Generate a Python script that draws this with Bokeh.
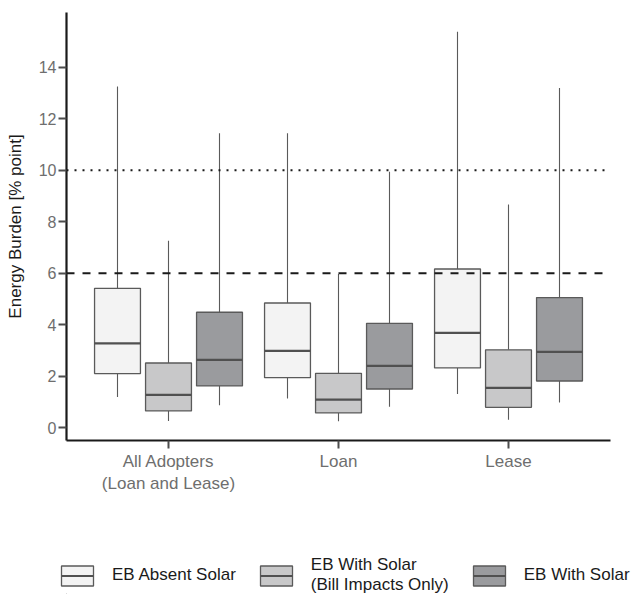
from bokeh.plotting import figure
from bokeh.layouts import column
from bokeh.models import ColumnDataSource, Span, Legend, LegendItem, FixedTicker
from bokeh.transform import dodge
from bokeh.embed import file_html
from bokeh.resources import INLINE

# ---- data ----
group_labels = ["All Adopters\n(Loan and Lease)", "Loan", "Lease"]
group_pos = [1, 2, 3]
series_names = ["EB Absent Solar", "EB With Solar\n(Bill Impacts Only)", "EB With Solar"]
series_colors = ["#F3F3F3", "#C8C8C9", "#9A9B9E"]

absent_lo = [1.20, 1.14, 1.32]
absent_q1 = [2.11, 1.95, 2.33]
absent_med = [3.28, 2.99, 3.69]
absent_q3 = [5.42, 4.85, 6.17]
absent_hi = [13.26, 11.44, 15.38]

bill_lo = [0.27, 0.26, 0.32]
bill_q1 = [0.66, 0.58, 0.80]
bill_med = [1.28, 1.10, 1.55]
bill_q3 = [2.52, 2.12, 3.03]
bill_hi = [7.27, 5.98, 8.67]

with_lo = [0.88, 0.82, 0.99]
with_q1 = [1.63, 1.51, 1.82]
with_med = [2.64, 2.41, 2.95]
with_q3 = [4.49, 4.06, 5.06]
with_hi = [11.44, 9.95, 13.20]

y_ticks = [0, 2, 4, 6, 8, 10, 12, 14]
ref_dashed = 6
ref_dotted = 10

series_stats = [
    (absent_lo, absent_q1, absent_med, absent_q3, absent_hi),
    (bill_lo, bill_q1, bill_med, bill_q3, bill_hi),
    (with_lo, with_q1, with_med, with_q3, with_hi),
]
offsets = [-0.3, 0.0, 0.3]
box_w = 0.27
outline = "#5a5a5a"
median_color = "#505050"

p = figure(frame_width=544, frame_height=428,
           min_border_left=66, min_border_right=20, min_border_top=12, min_border_bottom=60,
           x_range=(0.4, 3.6), y_range=(-0.49, 16.13),
           output_backend="svg", toolbar_location=None)
p.outline_line_color = None
p.xgrid.visible = False
p.ygrid.visible = False

for name, color, off, (lo, q1, med, q3, hi) in zip(series_names, series_colors, offsets, series_stats):
    src = ColumnDataSource(dict(x=group_pos, lo=lo, q1=q1, med=med, q3=q3, hi=hi))
    xc = dodge("x", off, range=p.x_range)
    p.segment(x0=xc, x1=xc, y0="q3", y1="hi", source=src, line_color=outline, line_width=1.1)
    p.segment(x0=xc, x1=xc, y0="lo", y1="q1", source=src, line_color=outline, line_width=1.1)
    p.vbar(x=xc, width=box_w, bottom="q1", top="q3", source=src,
           fill_color=color, line_color=outline, line_width=1.3)
    p.segment(x0=dodge("x", off - box_w / 2, range=p.x_range),
              x1=dodge("x", off + box_w / 2, range=p.x_range),
              y0="med", y1="med", source=src, line_color=median_color, line_width=2.2)

p.add_layout(Span(location=ref_dotted, dimension="width", line_color="#1a1a1a",
                  line_width=2, line_dash="2 6"))
p.add_layout(Span(location=ref_dashed, dimension="width", line_color="#1a1a1a",
                  line_width=2, line_dash="8 8"))

for ax in (p.xaxis[0], p.yaxis[0]):
    ax.axis_line_color = "#1a1a1a"
    ax.axis_line_width = 2.2
    ax.major_tick_line_color = "#4d4d4d"
    ax.major_tick_line_width = 2
    ax.major_tick_out = 8
    ax.major_tick_in = 0
    ax.minor_tick_line_color = None
    ax.major_label_text_font = "Liberation Sans"
    ax.major_label_text_color = "#6e6e6e"

p.yaxis.ticker = FixedTicker(ticks=y_ticks)
p.yaxis.major_label_text_font_size = "16px"
p.yaxis.major_label_standoff = 2
p.yaxis.axis_label = "Energy Burden [% point]"
p.yaxis.axis_label_text_font = "Liberation Sans"
p.yaxis.axis_label_text_font_size = "17px"
p.yaxis.axis_label_text_font_style = "normal"
p.yaxis.axis_label_text_color = "#1a1a1a"
p.yaxis.axis_label_standoff = 11

p.xaxis.ticker = FixedTicker(ticks=group_pos)
p.xaxis.major_label_overrides = {g: lab for g, lab in zip(group_pos, group_labels)}
p.xaxis.major_label_text_font_size = "17px"
p.xaxis.major_label_standoff = 3

# ---- legend strip (legend keys only; sample marks sit outside the visible range) ----
leg = figure(frame_width=636, frame_height=94, min_border=0,
             x_range=(0, 1), y_range=(0, 1), x_axis_location=None, y_axis_location=None,
             output_backend="svg", toolbar_location=None)
leg.outline_line_color = None
leg.xgrid.visible = False
leg.ygrid.visible = False
items = []
for name, color in zip(series_names, series_colors):
    key_src = ColumnDataSource(dict(x=[-10], q1=[-10], q3=[-9], x0=[-10], x1=[-9], m=[-10]))
    b = leg.vbar(x="x", width=box_w, bottom="q1", top="q3", source=key_src,
                 fill_color=color, line_color=outline, line_width=1.3)
    m = leg.segment(x0="x0", x1="x1", y0="m", y1="m", source=key_src,
                    line_color=median_color, line_width=2.2, line_dash="0 4 32 4")
    items.append(LegendItem(label=name, renderers=[b, m]))

legend = Legend(items=items, orientation="horizontal", location=(57, -1),
                glyph_width=40, glyph_height=25, label_standoff=15, spacing=20,
                padding=0, margin=0, border_line_color=None, background_fill_alpha=0,
                label_text_font="Liberation Sans", label_text_font_size="17px",
                label_text_color="#1a1a1a", label_text_line_height=1.0)
leg.add_layout(legend, "center")

layout = column(p, leg, spacing=0)
open("out.html", "w").write(file_html(layout, INLINE))
